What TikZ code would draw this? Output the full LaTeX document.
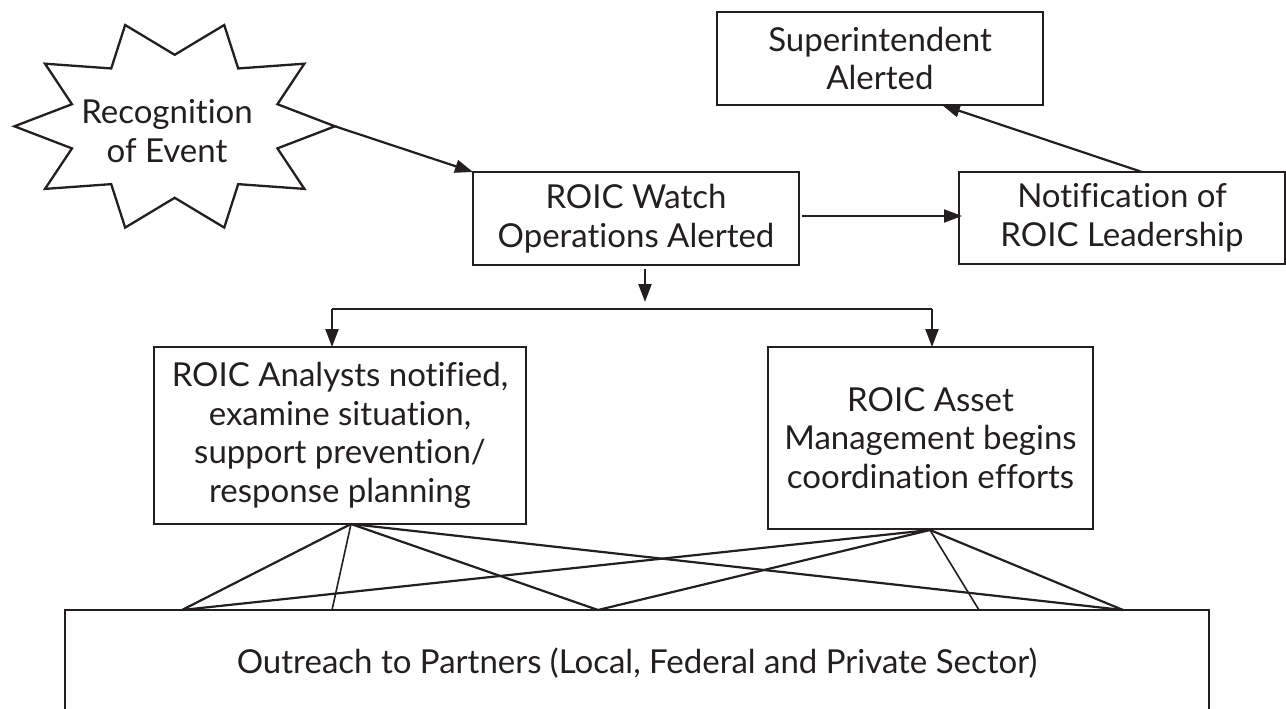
\documentclass[tikz,border=0pt]{standalone}
\usepackage{fontspec}
\setmainfont{Lato}[Ligatures=CommonOff]
\usetikzlibrary{arrows.meta,calc}
\definecolor{ink}{RGB}{35,31,32}
\begin{document}
\begin{tikzpicture}[x=1pt,y=-1pt,
  every node/.style={text=ink},
  box/.style={draw=ink, line width=2.3pt, rectangle, inner sep=0pt, outer sep=0pt,
    align=center, font=\fontsize{33}{38.5}\selectfont},
  lbl/.style={inner sep=0pt, align=center, font=\fontsize{33}{38.5}\selectfont},
  arr/.style={draw=ink, line width=2.2pt, -{Triangle[length=18pt,width=13pt]}},
  link/.style={draw=ink, line width=2.2pt},
  thinlink/.style={draw=ink, line width=1.6pt},
  starline/.style={draw=ink, line width=2.3pt, line join=miter}]
\useasboundingbox (0,0) rectangle (1286,709);
\begin{scope}
\clip (0,0) rectangle (1286,709);
% star
\draw[starline] (335,126.3)
  \foreach \a in {0,36,...,324}{
    -- ({174.7+108*cos(\a+18)},{126.3-71.5*sin(\a+18)})
    -- ({174.7+160.3*cos(\a+36)},{126.3-106.5*sin(\a+36)}) } -- cycle;
\coordinate (startip) at (335,126.3);
\node[lbl] (recog) at (167,131) {Recognition\\of Event};

% boxes
\node[box, minimum width=326pt, minimum height=93pt] (super) at (880,58.5) {Superintendent\\Alerted};
\node[box, minimum width=326pt, minimum height=93pt] (watch) at (636,218.5) {ROIC Watch\\Operations Alerted};
\node[box, minimum width=326pt, minimum height=92pt] (notif) at (1122,218) {Notification of\\ROIC Leadership};
\node[box, minimum width=372pt, minimum height=177pt] (analysts) at (340,435.5) {ROIC Analysts notified,\\examine situation,\\support prevention/\\response planning};
\node[box, minimum width=325pt, minimum height=182pt] (asset) at (930.5,438) {ROIC Asset\\Management begins\\coordination efforts};
\node[box, minimum width=1144pt, minimum height=106pt] (outreach) at (637,663) {Outreach to Partners (Local, Federal and Private Sector)};

% arrows
\draw[arr] (startip) -- (watch.north west);
\draw[arr] ([xshift=3pt,yshift=2.5pt]watch.east) -- ([xshift=3pt,yshift=2.5pt]watch.east -| notif.west);
\draw[arr] ([xshift=183pt]notif.north west) -- ([xshift=62pt]super.south);

\coordinate (wtop) at (645,269);
\coordinate (wbot) at (645,302);
\draw[arr] (wtop) -- (wbot);
\coordinate (bl) at (332,309);
\coordinate (br) at (932,309);
\draw[link] (bl) -- (br);
\draw[arr] (bl) -- (bl |- analysts.north);
\draw[arr] (br) -- (br |- asset.north);

% bottom links
\coordinate (A) at (351,524);
\coordinate (B) at (930,530);
\coordinate (p1) at (182,610);
\coordinate (p2) at (332,610);
\coordinate (p3) at (598,610);
\coordinate (p4) at (979,610);
\coordinate (p5) at (1123,610);
\draw[link] (A) -- (p1);
\draw[thinlink] (A) -- (p2);
\draw[link] (A) -- (p3);
\draw[link] (A) -- (p5);
\draw[link] (B) -- (p1);
\draw[link] (B) -- (p3);
\draw[thinlink] (B) -- (p4);
\draw[link] (B) -- (p5);
\end{scope}
\end{tikzpicture}
\end{document}
